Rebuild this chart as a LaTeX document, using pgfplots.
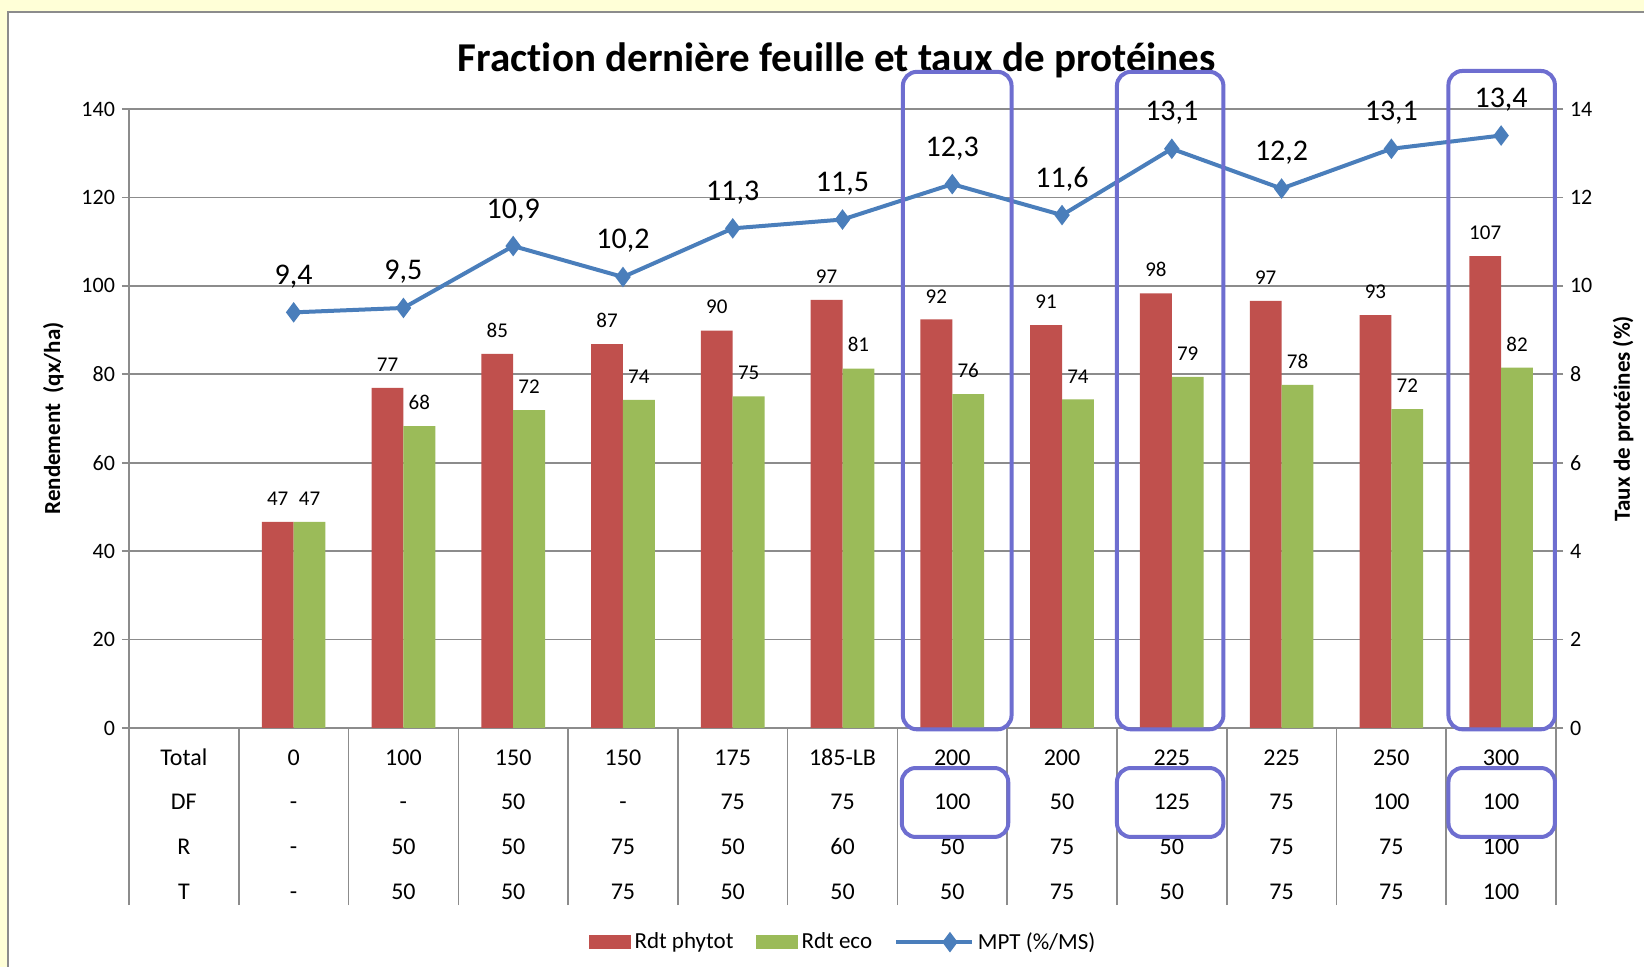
\documentclass[border=0pt]{standalone}
\usepackage{fontspec}
\setmainfont{Carlito}[Ligatures={NoCommon}]
\usepackage{pgfplots}
\usepackage{pgfplotstable}
\pgfplotsset{compat=1.18}
\definecolor{cred}{HTML}{C0504D}
\definecolor{cgreen}{HTML}{9BBB59}
\definecolor{cblue}{HTML}{4A7EBB}
\definecolor{cbox}{HTML}{6E6ED0}
\definecolor{cgrid}{HTML}{8C8C8C}
\definecolor{cbg}{HTML}{FFFFD7}
\pgfplotstableread{
x phy phylab eco ecolab mpt mptlab
1 46.6 47 46.6 47 9.4 9,4
2 76.9 77 68.3 68 9.5 9,5
3 84.6 85 71.9 72 10.9 10,9
4 86.8 87 74.2 74 10.2 10,2
5 89.9 90 75.0 75 11.3 11,3
6 96.8 97 81.3 81 11.5 11,5
7 92.4 92 75.5 76 12.3 12,3
8 91.1 91 74.3 74 11.6 11,6
9 98.3 98 79.4 79 13.1 13,1
10 96.6 97 77.6 78 12.2 12,2
11 93.4 93 72.1 72 13.1 13,1
12 106.7 107 81.5 82 13.4 13,4
}\data
\newcommand{\tl}[4]{\rule{0pt}{9pt}#1\\#2\\#3\\#4}
\begin{document}
\begin{tikzpicture}
\useasboundingbox (-64.5pt,-119.5pt) rectangle (757.5pt,364pt);
\fill[cbg] (-64.5pt,-119.5pt) rectangle (757.5pt,364pt);
\begin{scope}
\clip (-64.5pt,-119.5pt) rectangle (757.5pt,364pt);
\filldraw[fill=white, draw=cgrid, line width=0.8pt] (-60.5pt,-130pt) rectangle (770pt,358pt);
\end{scope}
\begin{axis}[
  width=713.5pt, height=309.5pt, scale only axis,
  at={(0pt,0pt)}, anchor=south west,
  /pgf/number format/assume math mode=true,
  xmin=-0.5, xmax=12.5, ymin=0, ymax=140,
  ytick={0,20,...,140},
  xtick={0,...,12},
  xticklabels={{\tl{Total}{DF}{R}{T}},{\tl{0}{-}{-}{-}},{\tl{100}{-}{50}{50}},{\tl{150}{50}{50}{50}},{\tl{150}{-}{75}{75}},{\tl{175}{75}{50}{50}},{\tl{185-LB}{75}{60}{50}},{\tl{200}{100}{50}{50}},{\tl{200}{50}{75}{75}},{\tl{225}{125}{50}{50}},{\tl{225}{75}{75}{75}},{\tl{250}{100}{75}{75}},{\tl{300}{100}{100}{100}}},
  xticklabel style={align=center, anchor=north, inner sep=0pt, yshift=-6pt, font=\fontsize{12}{22.3}\selectfont},
  yticklabel style={font=\fontsize{11}{13}\selectfont},
  axis x line*=bottom, axis y line*=left,
  axis line style={cgrid, line width=0.8pt},
  ymajorgrids, grid style={cgrid, line width=0.8pt},
  y tick style={cgrid, line width=0.8pt},
  ytick align=outside, major tick length=3.5pt,
  x tick style={draw=none},
  extra x ticks={-0.5,0.5,...,12.5},
  extra x tick labels={},
  extra x tick style={xtick align=outside, major tick length=88.5pt, x tick style={draw=cgrid, line width=0.8pt}, grid=none},
  ylabel={Rendement\ \ (qx/ha)},
  ylabel style={font=\fontsize{11.5}{13}\bfseries\selectfont, at={(axis description cs:-0.053,0.5)}, anchor=center},
  title={Fraction dernière feuille et taux de protéines},
  title style={font=\fontsize{20.5}{24}\bfseries\selectfont, at={(axis description cs:0.496,1.060)}, anchor=center},
  clip=false,
  ybar=0pt, bar width=0.29,
  every node near coord/.append style={font=\fontsize{10.5}{12}\selectfont, anchor=south, inner sep=0pt, yshift=8pt, black},
  legend style={at={(axis description cs:0.501,-0.346)}, anchor=center, draw=none, fill=none, legend columns=3, font=\fontsize{11.5}{13}\selectfont, nodes={inner sep=2pt}, /tikz/every even column/.append style={column sep=9pt}},
]
\addplot[fill=cred, draw=none, nodes near coords, point meta=explicit symbolic,
  legend image code/.code={\fill[cred] (0pt,-3.5pt) rectangle (21pt,3.5pt);}]
  table[x=x, y=phy, meta=phylab] {\data};
\addlegendentry{Rdt phytot}
\addplot[fill=cgreen, draw=none, nodes near coords, point meta=explicit symbolic,
  legend image code/.code={\fill[cgreen] (0pt,-3.5pt) rectangle (21pt,3.5pt);}]
  table[x=x, y=eco, meta=ecolab] {\data};
\addlegendentry{Rdt eco}
\addlegendimage{cblue, line width=2pt, mark=diamond*, mark size=3.5pt,
  legend image code/.code={\draw[mark repeat=2,mark phase=2] plot coordinates {(0pt,0pt) (11pt,0pt) (22pt,0pt)};}}
\addlegendentry{MPT (\%/MS)}
\end{axis}
\begin{axis}[
  width=713.5pt, height=309.5pt, scale only axis,
  at={(0pt,0pt)}, anchor=south west,
  /pgf/number format/assume math mode=true,
  xmin=-0.5, xmax=12.5, ymin=0, ymax=14,
  ytick={0,2,...,14},
  yticklabel style={font=\fontsize{11}{13}\selectfont},
  axis y line*=right, axis x line=none,
  axis line style={cgrid, line width=0.8pt},
  y tick style={cgrid, line width=0.8pt},
  ytick align=outside, major tick length=3.5pt,
  ylabel={Taux de protéines (\%)},
  ylabel style={font=\fontsize{11.5}{13}\bfseries\selectfont, at={(axis description cs:1.047,0.5)}, anchor=center},
  clip=false,
  every node near coord/.append style={font=\fontsize{15}{17}\selectfont, anchor=base, inner sep=0pt, yshift=14pt, black},
]
\addplot[cblue, line width=2pt, mark=diamond*, mark size=3.5pt, nodes near coords, point meta=explicit symbolic]
  table[x=x, y=mpt, meta=mptlab] {\data};
\draw[cbox, line width=2pt, rounded corners=7pt] (axis cs:6.55,-0.03) rectangle (axis cs:7.54,14.84);
\draw[cbox, line width=2pt, rounded corners=7pt] (axis cs:8.5,-0.03) rectangle (axis cs:9.47,14.84);
\draw[cbox, line width=2pt, rounded corners=7pt] (axis cs:11.52,-0.03) rectangle (axis cs:12.49,14.86);
\draw[cbox, line width=2pt, rounded corners=7pt] (axis cs:6.54,-0.905) rectangle (axis cs:7.51,-2.465);
\draw[cbox, line width=2pt, rounded corners=7pt] (axis cs:8.5,-0.905) rectangle (axis cs:9.47,-2.465);
\draw[cbox, line width=2pt, rounded corners=7pt] (axis cs:11.52,-0.905) rectangle (axis cs:12.49,-2.465);
\end{axis}
\end{tikzpicture}
\end{document}
